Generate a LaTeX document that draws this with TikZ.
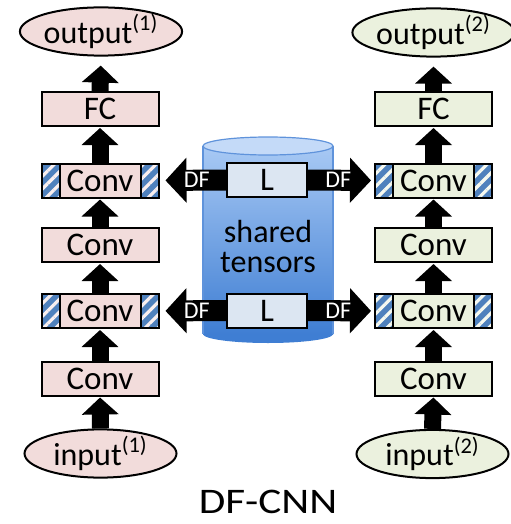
\documentclass[tikz,border=0pt]{standalone}
\usepackage{fontspec}
\usepackage{graphicx}
\setmainfont{Carlito}
\usetikzlibrary{arrows.meta, shapes.geometric, patterns.meta}

\definecolor{pinkfill}{HTML}{F2DCDB}
\definecolor{greenfill}{HTML}{EBF1DE}
\definecolor{stripblue}{HTML}{4F81BD}
\definecolor{lfill}{HTML}{DCE6F2}
\definecolor{tanktop}{HTML}{C4DAF8}
\definecolor{tankhi}{HTML}{A8C9F4}
\definecolor{tanklo}{HTML}{3F7ED3}
\definecolor{tankedge}{HTML}{5F93DB}

\tikzset{
  layer/.style={draw, line width=1pt, outer sep=0pt, inner sep=0pt,
    minimum width=58.5pt, minimum height=17pt, font=\fontsize{16.5}{18}\selectfont},
  term/.style={draw, ellipse, line width=1pt, inner sep=0pt,
    minimum width=76pt, font=\fontsize{16}{18}\selectfont},
  upflow/.style={line width=8.5pt, -{Triangle[length=8.5pt,width=18pt]}},
  dfflow/.style={line width=10.5pt, -{Triangle[length=10.5pt,width=22pt]}},
  dflabel/.style={text=white, inner sep=0pt, font=\fontsize{12}{12}\selectfont},
}

% striped ends of a conv layer: #1 node, #2 stripe colour
\newcommand{\hatchends}[2]{%
  \foreach \side/\dx in {west/9pt, east/-9pt} {
    \fill[stripblue] (#1.north \side) rectangle ([xshift=\dx]#1.south \side);
    \fill[pattern={Lines[angle=45,distance=4.5pt,line width=1.6pt]}, pattern color=#2]
      (#1.north \side) rectangle ([xshift=\dx]#1.south \side);
    \draw[line width=1pt] ([xshift=\dx]#1.north \side) -- ([xshift=\dx]#1.south \side);
  }
  \draw[line width=1pt] (#1.north west) rectangle (#1.south east);
}

\begin{document}
\begin{tikzpicture}[x=0.5pt, y=-0.5pt]
\useasboundingbox (0,0) rectangle (510,524);

% shared tensor store
\fill[tanklo] (268,334) ellipse (65 and 9);
\shade[top color=tankhi, bottom color=tanklo] (203,146) rectangle (333,334);
\draw[tankedge, line width=0.6pt] (203,146) -- (203,334);
\draw[tankedge, line width=0.6pt] (333,146) -- (333,334);
\filldraw[fill=tanktop, draw=tankedge, line width=0.6pt] (268,146) ellipse (65 and 9);
\node[align=center, inner sep=0pt, font=\fontsize{16}{15}\selectfont] (store) at (268,247) {shared\\tensors};

\node[layer, fill=lfill, minimum width=40pt] (lt) at (267,180) {L};
\node[layer, fill=lfill, minimum width=40pt] (lb) at (267,310.5) {L};

% task 1
\node[term, fill=pinkfill, minimum height=18.5pt] (out1) at (101,31.5) {output\textsuperscript{(1)}};
\node[layer, fill=pinkfill] (fc1) at (100,109) {FC};
\node[layer, fill=pinkfill] (ca1) at (100,180.5) {Conv};
\node[layer, fill=pinkfill] (cb1) at (100,245) {Conv};
\node[layer, fill=pinkfill] (cc1) at (100,311) {Conv};
\node[layer, fill=pinkfill] (cd1) at (100,378.5) {Conv};
\node[term, fill=pinkfill, minimum height=23pt] (in1) at (100.5,453.5) {input\textsuperscript{(1)}};

% task 2
\node[term, fill=greenfill, minimum height=18.5pt] (out2) at (433.5,32.5) {output\textsuperscript{(2)}};
\node[layer, fill=greenfill] (fc2) at (433.5,109) {FC};
\node[layer, fill=greenfill] (ca2) at (433.5,180.5) {Conv};
\node[layer, fill=greenfill] (cb2) at (433.5,245) {Conv};
\node[layer, fill=greenfill] (cc2) at (433.5,311) {Conv};
\node[layer, fill=greenfill] (cd2) at (433.5,378.5) {Conv};
\node[term, fill=greenfill, minimum height=23pt] (in2) at (432.5,454) {input\textsuperscript{(2)}};

\hatchends{ca1}{pinkfill!45!white}
\hatchends{cc1}{pinkfill!45!white}
\hatchends{ca2}{greenfill!45!white}
\hatchends{cc2}{greenfill!45!white}

% forward flow
\foreach \t in {1,2} {
  \foreach \a/\b in {in/cd, cd/cc, cc/cb, cb/ca, ca/fc}
    \draw[upflow, shorten >=1pt] (\a\t.north) -- (\b\t.south);
  \draw[upflow, shorten >=4.5pt] (fc\t.north) -- (out\t.south);
}

% deconvolutional factorization to each task
\draw[dfflow, shorten >=3.5pt] (lt.west) -- (ca1.east) node[pos=0.44, dflabel]{DF};
\draw[dfflow, shorten >=2pt] (lt.east) -- (ca2.west) node[pos=0.46, dflabel]{DF};
\draw[dfflow, shorten >=3.5pt] (lb.west) -- (cc1.east) node[pos=0.44, dflabel]{DF};
\draw[dfflow, shorten >=2pt] (lb.east) -- (cc2.west) node[pos=0.46, dflabel]{DF};

\node[font=\fontsize{18}{20}\selectfont] (title) at (268,502) {\scalebox{1.2}[1]{DF-CNN}};
\end{tikzpicture}
\end{document}
